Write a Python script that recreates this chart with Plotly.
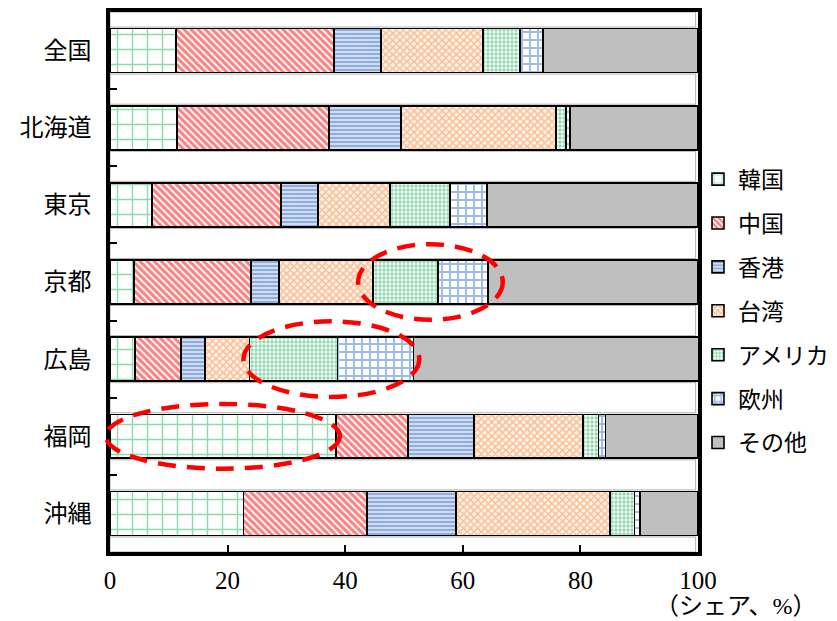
import plotly.graph_objects as go

# ---------------- data ----------------
regions = ["全国", "北海道", "東京", "京都", "広島", "福岡", "沖縄"]
series_names = ["韓国", "中国", "香港", "台湾", "アメリカ", "欧州", "その他"]

korea   = [11.2, 11.4,  7.1,  4.1,  4.3, 38.4, 22.7]
china   = [26.9, 25.8, 22.0, 19.9,  7.8, 12.3, 21.0]
hongkong= [ 8.0, 12.3,  6.3,  4.7,  4.1, 11.2, 15.1]
taiwan  = [17.3, 26.4, 12.2, 16.0,  7.5, 18.5, 26.2]
america = [ 6.3,  1.7, 10.2, 11.1, 15.0,  2.7,  4.2]
europe  = [ 3.9,  0.6,  6.3,  8.5, 12.9,  1.2,  0.9]
others  = [26.4, 21.8, 35.9, 35.7, 48.5, 15.6,  9.9]

series_values = [korea, china, hongkong, taiwan, america, europe, others]

x_tick_vals = [0, 20, 40, 60, 80, 100]
x_unit_label = "（シェア、%）"

# highlighted groups: (region, first series, last series)
highlights = [("京都", "アメリカ", "欧州"), ("広島", "アメリカ", "欧州"), ("福岡", "韓国", "韓国")]

# ---------------- styles ----------------
styles = [
    dict(bg="white",   fg="#1fb25a", shape="+",  size=15, sol=0.18),
    dict(bg="white",   fg="#ff0000", shape="\\", size=5,  sol=0.60),
    dict(bg="#d6e2f4", fg="#4a78c4", shape="-",  size=4,  sol=0.55),
    dict(bg="#fff4ec", fg="#f38a3c", shape="x",  size=5,  sol=0.55),
    dict(bg="white",   fg="#1fb25a", shape=".",  size=4,  sol=0.55),
    dict(bg="white",   fg="#3f78d4", shape="+",  size=8,  sol=0.45),
    dict(bg="#bfbfbf", fg="#bfbfbf", shape="",   size=8,  sol=0.3),
]
hl_pads = [(2.5, 0.49), (1.0, 0.49), (0.7, 0.42)]

FONT = "Liberation Serif, Noto Sans CJK JP, serif"
BAR_W = 0.57

fig = go.Figure()
for name, vals, st in zip(series_names, series_values, styles):
    pat = dict(shape=st["shape"], fgcolor=st["fg"], bgcolor=st["bg"],
               size=st["size"], solidity=st["sol"], fillmode="overlay")
    fig.add_trace(go.Bar(
        y=regions, x=vals, name=name, orientation="h", width=BAR_W,
        marker=dict(color=st["bg"], pattern=pat,
                    line=dict(color="black", width=1.6)),
        legendgroup=name,
    ))

shapes = []
# white gap rectangles with light grey border between bars
n = len(regions)
for k in range(n + 1):
    y0 = -0.5 if k == 0 else (k - 1) + BAR_W / 2 + 0.02
    y1 = n - 0.5 if k == n else k - BAR_W / 2 - 0.02
    shapes.append(dict(type="rect", xref="x", yref="y", x0=0, x1=99.6, y0=y0, y1=y1,
                       fillcolor="white", line=dict(color="#b0b0b0", width=1), layer="below"))

# red dashed ellipses around highlighted segments
for (reg, s_first, s_last), (xpad, yh) in zip(highlights, hl_pads):
    i = regions.index(reg)
    a = series_names.index(s_first)
    b = series_names.index(s_last)
    start = sum(series_values[j][i] for j in range(a))
    end = sum(series_values[j][i] for j in range(b + 1))
    x0p = (start - xpad) / 100.0
    x1p = (end + xpad) / 100.0
    y0p = (n - 0.5 - (i + yh)) / n
    y1p = (n - 0.5 - (i - yh)) / n
    shapes.append(dict(type="circle", xref="paper", yref="paper",
                       x0=x0p, x1=x1p, y0=y0p, y1=y1p,
                       line=dict(color="#ff0000", width=4.5, dash="18px,11px"),
                       layer="above"))

fig.update_layout(
    width=837, height=621,
    barmode="stack",
    paper_bgcolor="white", plot_bgcolor="white",
    margin=dict(l=110, r=139, t=12, b=69, autoexpand=False),
    font=dict(family=FONT, size=22, color="black"),
    showlegend=True,
    legend=dict(x=1.0, xanchor="left", y=0.446, yanchor="middle",
                traceorder="grouped", tracegroupgap=11,
                font=dict(size=23, family=FONT), itemwidth=30,
                bgcolor="rgba(0,0,0,0)"),
    shapes=shapes,
    annotations=[dict(text=x_unit_label, xref="paper", yref="paper",
                      x=1.065, y=-0.1, xanchor="center", yanchor="middle",
                      showarrow=False, font=dict(size=24, family=FONT))],
    bargap=0.43,
)
fig.update_xaxes(range=[0, 100], tickvals=x_tick_vals, ticks="inside", ticklen=7,
                 tickwidth=1.5, tickcolor="black", showgrid=False, zeroline=False,
                 showline=True, linewidth=3.5, linecolor="black", mirror=True,
                 ticklabelstandoff=3, tickfont=dict(size=25, family=FONT))
fig.update_yaxes(type="category", categoryorder="array", categoryarray=regions,
                 range=[n - 0.5, -0.5], ticks="inside", tickson="boundaries",
                 ticklen=7, tickwidth=1.5, tickcolor="black", showgrid=False,
                 showline=True, linewidth=3.5, linecolor="black", mirror=True,
                 ticklabelstandoff=10, tickfont=dict(size=24, family=FONT))

fig.write_html("out.html")
